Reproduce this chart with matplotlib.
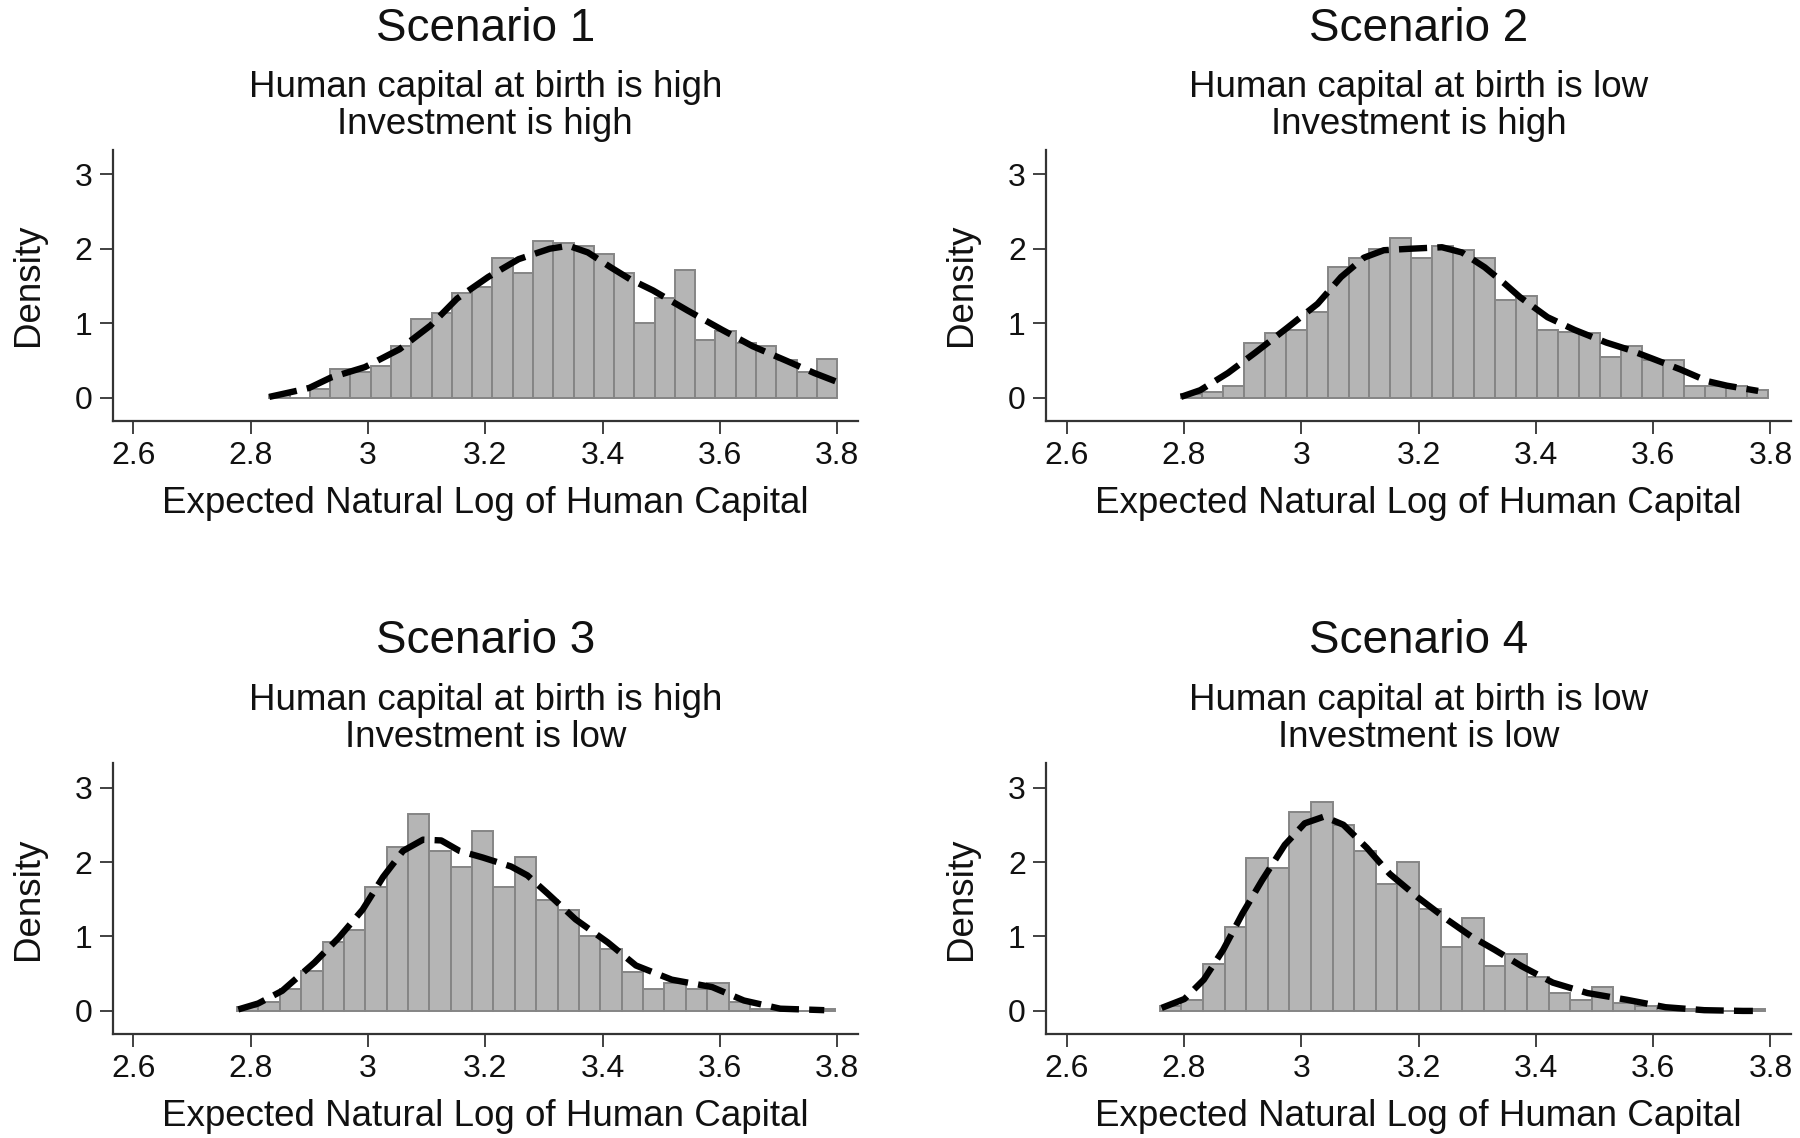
import matplotlib
matplotlib.use("Agg")
import matplotlib.pyplot as plt
import numpy as np

plt.rcParams["font.family"] = ["Liberation Sans", "DejaVu Sans"]

W, H = 1800, 1138

titles = ["Scenario 1", "Scenario 2", "Scenario 3", "Scenario 4"]
subtitles = [
    ("Human capital at birth is high", "Investment is high"),
    ("Human capital at birth is low", "Investment is high"),
    ("Human capital at birth is high", "Investment is low"),
    ("Human capital at birth is low", "Investment is low"),
]

# histogram range (min, max of data) and bar heights, 28 bins each
hist_range = [(2.832, 3.800), (2.795, 3.795), (2.777, 3.797), (2.759, 3.790)]

heights_1 = [0.03, 0.0, 0.12, 0.38, 0.35, 0.42, 0.69, 1.05, 1.13, 1.40, 1.49, 1.88,
             1.67, 2.11, 2.08, 2.04, 1.93, 1.67, 1.00, 1.34, 1.71, 0.78, 0.90, 0.74,
             0.69, 0.50, 0.34, 0.52]
heights_2 = [0.05, 0.07, 0.16, 0.74, 0.87, 0.91, 1.15, 1.76, 1.88, 2.00, 2.15, 1.88,
             2.04, 1.98, 1.88, 1.31, 1.36, 0.91, 0.88, 0.87, 0.55, 0.69, 0.51, 0.51,
             0.15, 0.15, 0.15, 0.10]
heights_3 = [0.05, 0.12, 0.29, 0.53, 0.92, 1.09, 1.67, 2.20, 2.64, 2.15, 1.93, 2.42,
             1.67, 2.07, 1.49, 1.36, 1.00, 0.83, 0.52, 0.29, 0.38, 0.29, 0.38, 0.12,
             0.02, 0.03, 0.0, 0.03]
heights_4 = [0.07, 0.15, 0.63, 1.13, 2.06, 1.92, 2.67, 2.80, 2.50, 2.15, 1.70, 2.00,
             1.37, 0.86, 1.25, 0.60, 0.77, 0.46, 0.24, 0.15, 0.32, 0.11, 0.07, 0.05,
             0.02, 0.03, 0.0, 0.02]

# kernel density curves
kde_x_1 = [2.832, 2.878, 2.90, 2.937, 2.995, 3.054, 3.107, 3.152, 3.205, 3.257, 3.31,
           3.342, 3.375, 3.414, 3.447, 3.486, 3.545, 3.604, 3.656, 3.715, 3.761, 3.797]
kde_y_1 = [0.01, 0.09, 0.13, 0.27, 0.41, 0.65, 0.97, 1.33, 1.62, 1.86, 2.00,
           2.04, 1.95, 1.75, 1.59, 1.44, 1.17, 0.91, 0.69, 0.49, 0.33, 0.22]

kde_x_2 = [2.795, 2.828, 2.875, 2.921, 2.975, 3.028, 3.068, 3.107, 3.141, 3.187, 3.24,
           3.274, 3.313, 3.347, 3.373, 3.42, 3.466, 3.52, 3.56, 3.60, 3.646, 3.693,
           3.726, 3.779]
kde_y_2 = [0.01, 0.10, 0.33, 0.60, 0.93, 1.26, 1.62, 1.88, 1.98, 2.00, 2.02,
           1.95, 1.75, 1.53, 1.35, 1.08, 0.91, 0.74, 0.64, 0.52, 0.38, 0.22,
           0.16, 0.09]

kde_x_3 = [2.779, 2.813, 2.854, 2.909, 2.95, 2.991, 3.026, 3.06, 3.094, 3.125, 3.156,
           3.196, 3.244, 3.272, 3.306, 3.354, 3.409, 3.457, 3.518, 3.587, 3.641,
           3.703, 3.778]
kde_y_3 = [0.02, 0.10, 0.27, 0.65, 0.98, 1.36, 1.80, 2.15, 2.30, 2.29, 2.15,
           2.06, 1.94, 1.82, 1.58, 1.23, 0.92, 0.61, 0.42, 0.32, 0.14,
           0.03, 0.01]

kde_x_4 = [2.762, 2.801, 2.834, 2.867, 2.90, 2.933, 2.972, 3.006, 3.039, 3.072, 3.112,
           3.151, 3.198, 3.25, 3.29, 3.33, 3.376, 3.429, 3.488, 3.555, 3.621, 3.687,
           3.753, 3.77]
kde_y_4 = [0.04, 0.16, 0.42, 0.82, 1.31, 1.75, 2.23, 2.52, 2.61, 2.50, 2.19,
           1.84, 1.53, 1.22, 1.00, 0.82, 0.60, 0.38, 0.24, 0.15, 0.05, 0.01,
           0.0, 0.0]

heights = [heights_1, heights_2, heights_3, heights_4]
kdes = [(kde_x_1, kde_y_1), (kde_x_2, kde_y_2), (kde_x_3, kde_y_3), (kde_x_4, kde_y_4)]

xticks = [2.6, 2.8, 3.0, 3.2, 3.4, 3.6, 3.8]
xticklabels = ["2.6", "2.8", "3", "3.2", "3.4", "3.6", "3.8"]
yticks = [0, 1, 2, 3]

fig = plt.figure(figsize=(W / 100, H / 100), dpi=100)

# axes boxes in pixels (left, bottom spine from top)
col_left = [112.7, 1046.0]
row_bottom = [420.7, 1034.0]
ax_w, ax_h = 745.0, 271.0
title_base = [(41.0, 97.0, 134.0), (653.0, 710.0, 747.0)]

spine_col = "#333333"
txt_col = "#111111"

for i in range(4):
    r, c = divmod(i, 2)
    left = col_left[c] / W
    bottom = 1 - row_bottom[r] / H
    ax = fig.add_axes([left, bottom, ax_w / W, ax_h / H])

    lo, hi = hist_range[i]
    edges = np.linspace(lo, hi, len(heights[i]) + 1)
    ax.bar(edges[:-1], heights[i], width=np.diff(edges), align="edge",
           color="#b5b5b5", edgecolor="#858585", linewidth=1.4, zorder=2)
    kx, ky = kdes[i]
    ax.plot(kx, ky, color="black", linewidth=4.6, linestyle=(0, (4.4, 1.6)),
            zorder=3)

    ax.set_xlim(2.565, 3.835)
    ax.set_ylim(-0.31, 3.33)
    ax.set_xticks(xticks)
    ax.set_xticklabels(xticklabels)
    ax.set_yticks(yticks)
    ax.tick_params(axis="both", direction="out", length=9.5, width=1.3,
                   color=spine_col, labelsize=23, labelcolor=txt_col)
    ax.tick_params(axis="x", pad=5)
    ax.tick_params(axis="y", pad=5)
    for s in ("top", "right"):
        ax.spines[s].set_visible(False)
    for s in ("left", "bottom"):
        ax.spines[s].set_color(spine_col)
        ax.spines[s].set_linewidth(1.6)

    ax.set_xlabel("Expected Natural Log of Human Capital", fontsize=26.5,
                  color=txt_col)
    ax.xaxis.set_label_coords(0.5, -0.24)
    ax.set_ylabel("Density", fontsize=26.5, color=txt_col)
    ax.yaxis.set_label_coords(-0.09, 0.5)

    cx = (col_left[c] + ax_w / 2) / W
    b0, b1, b2 = title_base[r]
    fig.text(cx, 1 - b0 / H, titles[i], fontsize=33, ha="center",
             va="baseline", color=txt_col)
    fig.text(cx, 1 - b1 / H, subtitles[i][0], fontsize=26.5, ha="center",
             va="baseline", color=txt_col)
    fig.text(cx, 1 - b2 / H, subtitles[i][1], fontsize=26.5, ha="center",
             va="baseline", color=txt_col)

fig.savefig("out.png", dpi=100, facecolor="white")
